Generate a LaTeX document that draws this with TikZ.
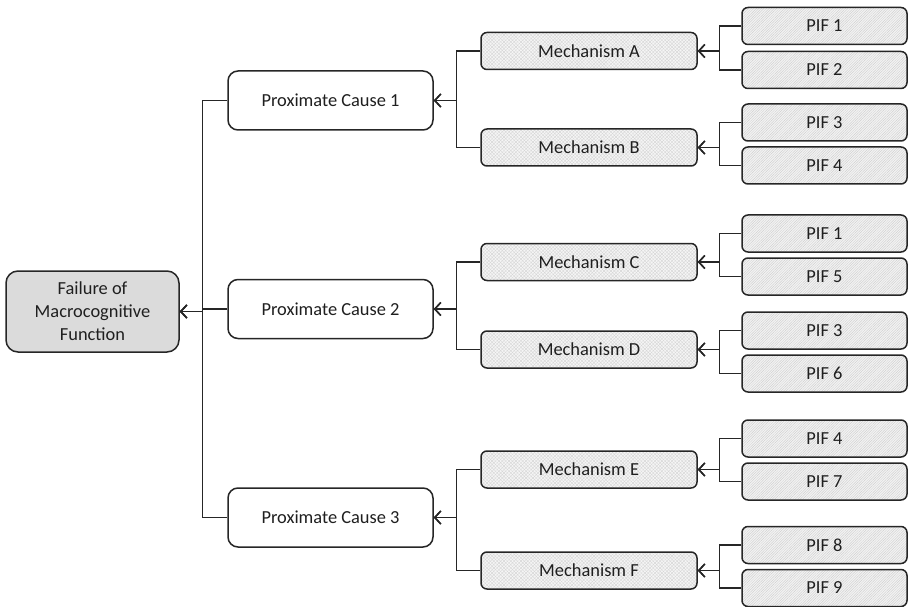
\documentclass[tikz,border=0pt]{standalone}
\usepackage{fontspec}
\setmainfont{Carlito}
\usetikzlibrary{arrows.meta,patterns.meta}
\begin{document}
\begin{tikzpicture}[x=1pt,y=-1pt,
  font=\fontsize{18.4}{23}\selectfont,
  box/.style={draw=black!85, line width=1.5pt, align=center, inner sep=0pt, text=black!88},
  rootbox/.style={box, rounded corners=12, fill=gray!28, minimum width=173, minimum height=81},
  causebox/.style={box, rounded corners=10, fill=white, minimum width=205, minimum height=59},
  mechbox/.style={box, rounded corners=6, minimum width=216, minimum height=37,
    preaction={fill=gray!8},
    preaction={pattern={Lines[angle=45,distance=2.4pt,line width=0.3pt]}, pattern color=gray!35},
    preaction={pattern={Lines[angle=-45,distance=2.4pt,line width=0.3pt]}, pattern color=gray!35}},
  pifbox/.style={box, rounded corners=6, minimum width=165, minimum height=37,
    preaction={fill=gray!10},
    preaction={pattern={Lines[angle=45,distance=1.8pt,line width=0.3pt]}, pattern color=gray!42}},
  link/.style={draw=black!85, line width=1.5pt, -{Straight Barb[length=6pt,width=13pt,line width=1.5pt]}}
]
\useasboundingbox (0,0) rectangle (911,607);

% root
\node[rootbox] (root) at (92.5,311.5) {Failure of\\Macrocognitive\\Function};

% proximate causes
\node[causebox] (pc1) at (330.5,100.5) {Proximate Cause 1};
\node[causebox] (pc2) at (330.5,309) {Proximate Cause 2};
\node[causebox] (pc3) at (330.5,517.5) {Proximate Cause 3};

% mechanisms
\node[mechbox] (mA) at (589,51) {Mechanism A};
\node[mechbox] (mB) at (589,147.5) {Mechanism B};
\node[mechbox] (mC) at (589,262) {Mechanism C};
\node[mechbox] (mD) at (589,349.5) {Mechanism D};
\node[mechbox] (mE) at (589,469.5) {Mechanism E};
\node[mechbox] (mF) at (589,570.5) {Mechanism F};

% performance influencing factors
\node[pifbox] (p1) at (824.5,26) {PIF 1};
\node[pifbox] (p2) at (824.5,70) {PIF 2};
\node[pifbox] (p3) at (824.5,122.5) {PIF 3};
\node[pifbox] (p4) at (824.5,165.5) {PIF 4};
\node[pifbox] (p5) at (824.5,233.5) {PIF 1};
\node[pifbox] (p6) at (824.5,276.5) {PIF 5};
\node[pifbox] (p7) at (824.5,330.5) {PIF 3};
\node[pifbox] (p8) at (824.5,373.5) {PIF 6};
\node[pifbox] (p9) at (824.5,438.5) {PIF 4};
\node[pifbox] (p10) at (824.5,481.5) {PIF 7};
\node[pifbox] (p11) at (824.5,545) {PIF 8};
\node[pifbox] (p12) at (824.5,588) {PIF 9};

% connectors: child west -> branch line -> parent east
\foreach \c in {pc1,pc2,pc3}
  \draw[link] (\c.west) -- ++(-25,0) |- (root.east);
\foreach \c/\p in {mA/pc1,mB/pc1,mC/pc2,mD/pc2,mE/pc3,mF/pc3}
  \draw[link] (\c.west) -- ++(-24,0) |- (\p.east);
\foreach \c/\p in {p1/mA,p2/mA,p3/mB,p4/mB,p5/mC,p6/mC,p7/mD,p8/mD,p9/mE,p10/mE,p11/mF,p12/mF}
  \draw[link] (\c.west) -- ++(-22,0) |- (\p.east);
\end{tikzpicture}
\end{document}
